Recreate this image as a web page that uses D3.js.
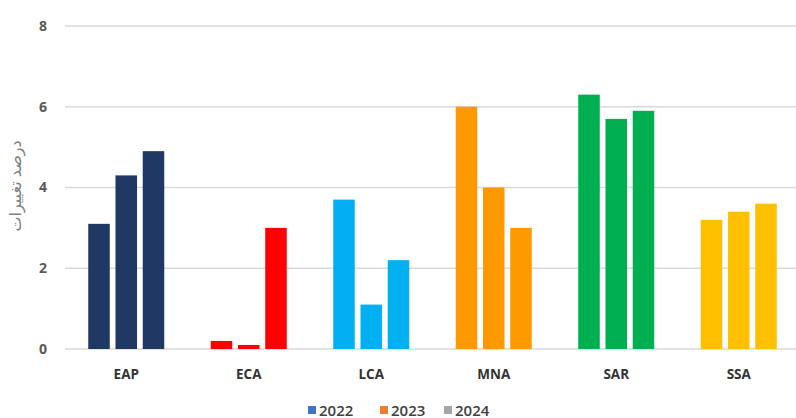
<!DOCTYPE html>
<html>
<head>
<meta charset="utf-8">
<script src="https://cdn.jsdelivr.net/npm/d3@7"></script>
<style>
  html, body { margin: 0; padding: 0; background: #fff; }
  svg { display: block; }
</style>
</head>
<body>
<svg id="chart" width="796" height="418"></svg>
<script>
// Regions and their values for each year
const regions = ["EAP", "ECA", "LCA", "MNA", "SAR", "SSA"];
const years = ["2022", "2023", "2024"];
const values2022 = [3.1, 0.2, 3.7, 6.0, 6.3, 3.2];
const values2023 = [4.3, 0.1, 1.1, 4.0, 5.7, 3.4];
const values2024 = [4.9, 3.0, 2.2, 3.0, 5.9, 3.6];
const yTicks = [0, 2, 4, 6, 8];
const regionColors = ["#1f3864", "#ff0000", "#00b0f0", "#ff9900", "#00b050", "#ffc000"];
const legendColors = ["#4472c4", "#ed7d31", "#a5a5a5"];
const yTitle = "درصد تغییرات";

const series = [values2022, values2023, values2024];
const rows = regions.map((r, i) => ({
  region: r,
  color: regionColors[i],
  vals: years.map((y, j) => ({ year: y, value: series[j][i] }))
}));

const svg = d3.select("#chart");

const x = d3.scaleBand().domain(regions).range([65, 800]).paddingInner(0).paddingOuter(0);
const xInner = d3.scaleBand().domain(years).range([-38, 38]).paddingInner(0.21);
const y = d3.scaleLinear().domain([0, 8]).range([349, 26]);

// Gridlines
svg.append("g")
  .selectAll("line")
  .data(yTicks)
  .join("line")
  .attr("x1", 65).attr("x2", 796)
  .attr("y1", d => y(d)).attr("y2", d => y(d))
  .attr("stroke", "#d9d9d9")
  .attr("stroke-width", 1.5);

// Y axis tick labels
const yAxis = d3.axisLeft(y).tickValues(yTicks).tickSize(0).tickPadding(0);
const gy = svg.append("g").attr("transform", "translate(47,0)").call(yAxis);
gy.select(".domain").remove();
gy.selectAll("text")
  .attr("text-anchor", "middle")
  .attr("dx", "-4")
  .style("font-family", "Open Sans, Liberation Sans, sans-serif")
  .style("font-size", "14px")
  .style("font-weight", "bold")
  .attr("fill", "#595959");

// X axis category labels
const xAxis = d3.axisBottom(x).tickSize(0).tickPadding(0);
const gx = svg.append("g").attr("transform", "translate(0,369)").call(xAxis);
gx.select(".domain").remove();
gx.selectAll("text")
  .style("font-family", "Open Sans, Liberation Sans, sans-serif")
  .style("font-size", "13.5px")
  .style("font-weight", "bold")
  .attr("fill", "#333");

// Bars
const groups = svg.append("g")
  .selectAll("g")
  .data(rows)
  .join("g")
  .attr("transform", d => `translate(${x(d.region) + x.bandwidth() / 2},0)`);

groups.selectAll("rect")
  .data(d => d.vals.map(v => ({ ...v, color: d.color })))
  .join("rect")
  .attr("x", d => xInner(d.year))
  .attr("width", xInner.bandwidth())
  .attr("y", d => y(d.value))
  .attr("height", d => y(0) - y(d.value))
  .attr("fill", d => d.color);

// Y axis title
svg.append("text")
  .attr("transform", "translate(21,186) rotate(-90)")
  .attr("text-anchor", "middle")
  .attr("direction", "rtl")
  .style("font-family", "Noto Sans, DejaVu Sans, sans-serif")
  .style("font-size", "16px")
  .attr("fill", "#7f7f7f")
  .text(yTitle);

// Legend
const legendX = [308, 380, 444];
const legend = svg.append("g")
  .selectAll("g")
  .data(years)
  .join("g")
  .attr("transform", (d, i) => `translate(${legendX[i]},410)`);
legend.append("rect")
  .attr("x", 0).attr("y", -4)
  .attr("width", 8).attr("height", 8)
  .attr("fill", (d, i) => legendColors[i]);
legend.append("text")
  .attr("x", 11).attr("y", 5.5)
  .style("font-family", "Open Sans, Liberation Sans, sans-serif")
  .style("font-size", "15px")
  .style("font-weight", "600")
  .attr("fill", "#404040")
  .text(d => d);
</script>
</body>
</html>
